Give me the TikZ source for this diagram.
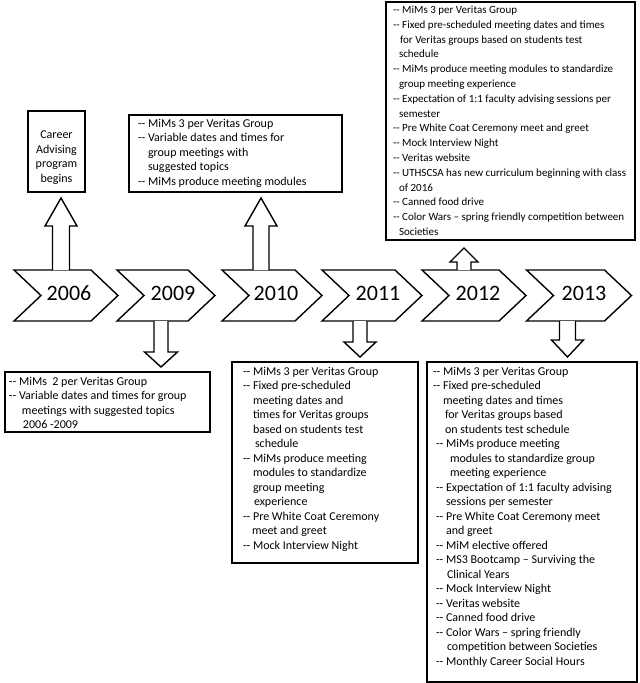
\documentclass[tikz,border=0pt]{standalone}
\usepackage{fontspec}
\setmainfont{Carlito}
\usetikzlibrary{calc}
\newcommand\hy{\mbox{-}\mbox{-}}
\newcommand\ind[1]{\hspace*{#1pt}}
\begin{document}
\begin{tikzpicture}[x=1pt,y=-1pt,
  chevbox/.style={rectangle,inner sep=0pt,outer sep=0pt,minimum height=51pt},
  chevline/.style={draw=black,line width=1.4pt,line join=miter},
  year/.style={inner sep=0pt,font=\fontsize{22}{26}\selectfont},
  box/.style={draw=black,line width=1.5pt,rectangle,inner sep=0pt,outer sep=0pt,anchor=north west},
  txt/.style={inner sep=0pt,outer sep=0pt,anchor=north west,align=left,font=\fontsize{12}{14.5}\selectfont},
  blk/.style={draw=black,line width=1.4pt,fill=white,line join=miter}]
\fill[white] (0,0) rectangle (640,683);
\useasboundingbox (0,0) rectangle (640,683);

% chevrons: name, center x, width
\newcommand\chevron[3]{%
  \node[chevbox,minimum width=#3pt] (#1) at (#2,295.5) {};
  \draw[chevline] (#1.north west) -- ([xshift=-27pt]#1.north east) -- (#1.east)
     -- ([xshift=-27pt]#1.south east) -- (#1.south west) -- ([xshift=27pt]#1.west) -- cycle;
}
\chevron{c06}{66}{104}
\chevron{c09}{166}{98}
\chevron{c10}{272}{100}
\chevron{c11}{372}{100}
\chevron{c12}{474}{104}
\chevron{c13}{579}{105}
\node[year] (y06) at (69,293) {2006};
\node[year] (y09) at (173,293) {2009};
\node[year] (y10) at (276,293) {2010};
\node[year] (y11) at (378,293) {2011};
\node[year] (y12) at (478,293) {2012};
\node[year] (y13) at (584,293) {2013};

% boxes
\node[box,minimum width=57pt,minimum height=81pt] (b06) at (28,111) {};
\node[box,minimum width=213pt,minimum height=77pt] (b10) at (129,115) {};
\node[box,minimum width=249pt,minimum height=238pt] (b12) at (386,2) {};
\node[box,minimum width=205pt,minimum height=60pt] (b09) at (5,372) {};
\node[box,minimum width=186pt,minimum height=201pt] (b11) at (232,362) {};
\node[box,minimum width=210pt,minimum height=320pt] (b13) at (427,362) {};

% texts
\node[txt,anchor=north,align=center] (t06) at (56.5,131) {Career\\Advising\\program\\begins};
\node[txt] (t10) at (138,119) {\hy{} MiMs 3 per Veritas Group\\
\hy{} Variable dates and times for\\
\ind{10}group meetings with\\
\ind{10}suggested topics\\
\hy{} MiMs produce meeting modules};
\node[txt,font=\fontsize{11}{14.8}\selectfont] (t12) at (393,6) {\hy{} MiMs 3 per Veritas Group\\
\hy{} Fixed pre-scheduled meeting dates and times\\
\ind{7}for Veritas groups based on students test\\
\ind{6}schedule\\
\hy{} MiMs produce meeting modules to standardize\\
\ind{6}group meeting experience\\
\hy{} Expectation of 1:1 faculty advising sessions per\\
\ind{6}semester\\
\hy{} Pre White Coat Ceremony meet and greet\\
\hy{} Mock Interview Night\\
\hy{} Veritas website\\
\hy{} UTHSCSA has new curriculum beginning with class\\
\ind{6}of 2016\\
\hy{} Canned food drive\\
\hy{} Color Wars – spring friendly competition between\\
\ind{6}Societies};
\node[txt] (t09) at (9,377) {\hy{} MiMs\ \ 2 per Veritas Group\\
\hy{} Variable dates and times for group\\
\ind{13}meetings with suggested topics\\
\ind{14}2006 -2009};
\node[txt] (t11) at (243,367) {\hy{} MiMs 3 per Veritas Group\\
\hy{} Fixed pre-scheduled\\
\ind{10}meeting dates and\\
\ind{10}times for Veritas groups\\
\ind{10}based on students test\\
\ind{12}schedule\\
\hy{} MiMs produce meeting\\
\ind{10}modules to standardize\\
\ind{10}group meeting\\
\ind{11}experience\\
\hy{} Pre White Coat Ceremony\\
\ind{9}meet and greet\\
\hy{} Mock Interview Night};
\node[txt] (t13) at (433,367) {\hy{} MiMs 3 per Veritas Group\\
\hy{} Fixed pre-scheduled\\
\ind{10}meeting dates and times\\
\ind{12}for Veritas groups based\\
\ind{12}on students test schedule\\
\ind{3}\hy{} MiMs produce meeting\\
\ind{17}modules to standardize group\\
\ind{17}meeting experience\\
\ind{3}\hy{} Expectation of 1:1 faculty advising\\
\ind{13}sessions per semester\\
\ind{3}\hy{} Pre White Coat Ceremony meet\\
\ind{13}and greet\\
\ind{3}\hy{} MiM elective offered\\
\ind{3}\hy{} MS3 Bootcamp – Surviving the\\
\ind{14}Clinical Years\\
\ind{3}\hy{} Mock Interview Night\\
\ind{3}\hy{} Veritas website\\
\ind{3}\hy{} Canned food drive\\
\ind{3}\hy{} Color Wars – spring friendly\\
\ind{14}competition between Societies\\
\ind{3}\hy{} Monthly Career Social Hours};

% block arrows: tail, tip, shaft half, head half, head length
\newcommand\barrow[5]{%
  \draw[blk] let \p1=(#1), \p2=(#2), \n1={sign(\y2-\y1)} in
    ({\x1-#3pt},\y1) -- ({\x1-#3pt},{\y2-(\n1)*#5pt}) -- ({\x1-#4pt},{\y2-(\n1)*#5pt})
    -- (\x2,\y2) -- ({\x1+#4pt},{\y2-(\n1)*#5pt}) -- ({\x1+#3pt},{\y2-(\n1)*#5pt}) -- ({\x1+#3pt},\y1);
}
\coordinate (a06) at ([xshift=47pt]c06.north west);
\coordinate (h06) at ($(a06 |- b06.south)+(0,6)$);
\coordinate (a10) at ([xshift=39pt]c10.north west);
\coordinate (h10) at ($(a10 |- b10.south)+(0,6)$);
\coordinate (a12) at ([xshift=42pt]c12.north west);
\coordinate (h12) at ($(a12 |- b12.south)+(0,8)$);
\coordinate (a09) at ([xshift=44pt]c09.south west);
\coordinate (h09) at ($(a09 |- b09.north)+(0,-5)$);
\coordinate (a11) at ([xshift=38pt]c11.south west);
\coordinate (h11) at ($(a11 |- b11.north)+(0,-5)$);
\coordinate (a13) at ([xshift=41pt]c13.south west);
\coordinate (h13) at ($(a13 |- b13.north)+(0,-5)$);
\barrow{a06}{h06}{8.5}{16}{28}
\barrow{a10}{h10}{8}{16}{28}
\barrow{a12}{h12}{7}{14}{14}
\barrow{a09}{h09}{7}{16.5}{15}
\barrow{a11}{h11}{7}{16}{15}
\barrow{a13}{h13}{8}{16}{17}
\end{tikzpicture}
\end{document}
